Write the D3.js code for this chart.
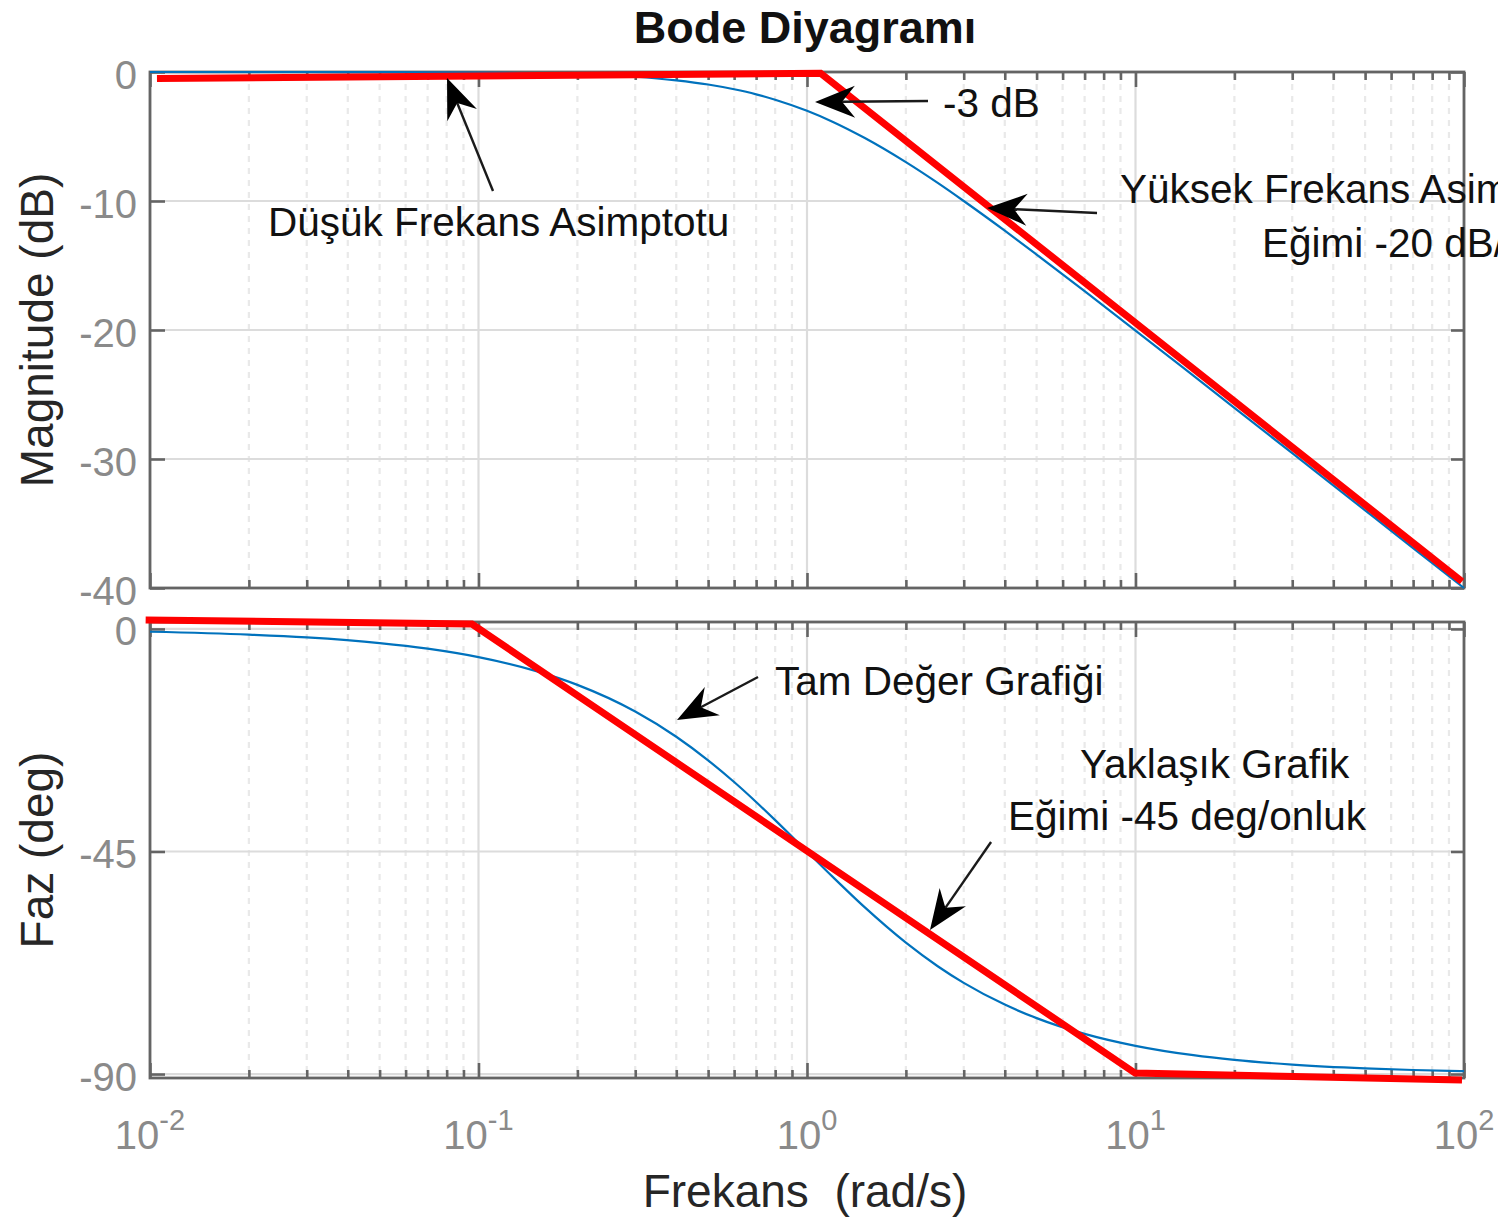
<!DOCTYPE html>
<html>
<head>
<meta charset="utf-8">
<script src="https://cdn.jsdelivr.net/npm/d3@7"></script>
<style>
  body { margin: 0; background: #fff; }
  svg { display: block; }
  text { font-family: "Liberation Sans", Arial, Helvetica, sans-serif; white-space: pre; }
</style>
</head>
<body>
<svg id="chart" width="1498" height="1219"></svg>
<script>
// ---------------- data ----------------
const freq = [0.01, 0.02, 0.03, 0.05, 0.07, 0.1, 0.15, 0.2, 0.3, 0.4, 0.5, 0.6, 0.7, 0.8, 1, 1.2, 1.5, 2, 2.5, 3, 4, 5, 7, 10, 15, 20, 30, 50, 70, 100];
const magnitudeDb = [0.00, 0.00, 0.00, -0.01, -0.02, -0.04, -0.10, -0.17, -0.37, -0.65, -0.97, -1.34, -1.73, -2.15, -3.01, -3.87, -5.12, -6.99, -8.60, -10.00, -12.30, -14.15, -16.99, -20.04, -23.54, -26.03, -29.55, -33.98, -36.90, -40.00];
const phaseDeg = [-0.57, -1.15, -1.72, -2.86, -4.00, -5.71, -8.53, -11.31, -16.70, -21.80, -26.57, -30.96, -34.99, -38.66, -45.00, -50.19, -56.31, -63.43, -68.20, -71.57, -75.96, -78.69, -81.87, -84.29, -86.19, -87.14, -88.09, -88.85, -89.18, -89.43];

const asymMagFreq = [0.0105, 1.10, 98.6];
const asymMagDb = [-0.5, -0.1, -39.5];
const asymPhaseFreq = [0.0097, 0.0955, 9.97, 98.6];
const asymPhaseDeg = [1.8, 1.0, -89.8, -91.2];

const magTicks = [0, -10, -20, -30, -40];
const phaseTicks = [0, -45, -90];
const decadeTicks = [0.01, 0.1, 1, 10, 100];
const decadeExponents = ["-2", "-1", "0", "1", "2"];

const titleText = "Bode Diyagramı";
const xLabelText = "Frekans  (rad/s)";
const magLabelText = "Magnitude (dB)";
const phaseLabelText = "Faz (deg)";

// annotation texts and their anchor points in data units (freq, value)
const magNotes = [
  { text: "Düşük Frekans Asimptotu", f: 0.02286, v: -12.71 },
  { text: "-3 dB", f: 2.594, v: -3.49 },
  { text: "Yüksek Frekans Asimptotu", f: 8.97, v: -10.16 },
  { text: "Eğimi -20 dB/onluk", f: 24.27, v: -14.34 }
];
const phaseNotes = [
  { text: "Tam Değer Grafiği", f: 0.7991, v: -13.35 },
  { text: "Yaklaşık Grafik", f: 6.776, v: -30.14 },
  { text: "Eğimi -45 deg/onluk", f: 4.092, v: -40.66 }
];
// arrows: tail -> head in data units
const magArrows = [
  { f1: 0.1107, v1: -9.22, f2: 0.0802, v2: -0.47 },
  { f1: 2.335, v1: -2.25, f2: 1.058, v2: -2.33 },
  { f1: 7.636, v1: -10.93, f2: 3.532, v2: -10.54 }
];
const phaseArrows = [
  { f1: 0.7094, v1: -9.71, f2: 0.402, v2: -18.41 },
  { f1: 3.633, v1: -43.08, f2: 2.368, v2: -60.88 }
];

// ---------------- layout ----------------
const svg = d3.select("#chart");
const left = 150, right = 1464;
const magTop = 72, magBottom = 588, phTop = 622, phBottom = 1078;

const x = d3.scaleLog().domain([0.01, 100]).range([left, right]);
const yMag = d3.scaleLinear().domain([-40, 0]).range([magBottom, magTop]);
const yPh = d3.scaleLinear().domain([-90.8, 1.4]).range([phBottom, phTop]);

const minorTicks = x.ticks().filter(v => Math.abs(Math.log10(v) - Math.round(Math.log10(v))) > 1e-6);

const axisColor = "#646464";
const tickLabelColor = "#8a8a8a";

function panel(y, top, bottom, yTicks) {
  const g = svg.append("g");
  // minor x grid (dotted)
  g.append("g").selectAll("line").data(minorTicks).join("line")
    .attr("x1", d => x(d)).attr("x2", d => x(d))
    .attr("y1", top).attr("y2", bottom)
    .attr("stroke", "#e9e9e9").attr("stroke-width", 2.2)
    .attr("stroke-dasharray", "6,6");
  // major x grid
  g.append("g").selectAll("line").data(decadeTicks).join("line")
    .attr("x1", d => x(d)).attr("x2", d => x(d))
    .attr("y1", top).attr("y2", bottom)
    .attr("stroke", "#dcdcdc").attr("stroke-width", 2.2);
  // major y grid
  g.append("g").selectAll("line").data(yTicks).join("line")
    .attr("x1", left).attr("x2", right)
    .attr("y1", d => y(d)).attr("y2", d => y(d))
    .attr("stroke", "#dcdcdc").attr("stroke-width", 2.2);

  // axes (ticks pointing inward)
  const styleAxis = sel => {
    sel.select(".domain").remove();
    sel.selectAll(".tick line").attr("stroke", axisColor).attr("stroke-width", 2.6);
  };
  g.append("g").attr("transform", `translate(0,${bottom})`)
    .call(d3.axisBottom(x).tickValues(decadeTicks).tickSize(-15).tickFormat(""))
    .call(styleAxis);
  g.append("g").attr("transform", `translate(0,${bottom})`)
    .call(d3.axisBottom(x).tickValues(minorTicks).tickSize(-8).tickFormat(""))
    .call(styleAxis);
  g.append("g").attr("transform", `translate(0,${top})`)
    .call(d3.axisTop(x).tickValues(decadeTicks).tickSize(-15).tickFormat(""))
    .call(styleAxis);
  g.append("g").attr("transform", `translate(0,${top})`)
    .call(d3.axisTop(x).tickValues(minorTicks).tickSize(-8).tickFormat(""))
    .call(styleAxis);
  g.append("g").attr("transform", `translate(${right},0)`)
    .call(d3.axisRight(y).tickValues(yTicks).tickSize(-13).tickFormat(""))
    .call(styleAxis);
  const ya = g.append("g").attr("transform", `translate(${left},0)`)
    .call(d3.axisLeft(y).tickValues(yTicks).tickSize(-15).tickPadding(13).tickFormat(d => String(d)))
    .call(styleAxis);
  ya.selectAll(".tick text")
    .attr("font-size", 40).attr("fill", tickLabelColor)
    .attr("font-family", "Liberation Sans, Arial, sans-serif")
    .attr("dy", "0.4em");

  // box
  g.append("rect").attr("x", left).attr("y", top)
    .attr("width", right - left).attr("height", bottom - top)
    .attr("fill", "none").attr("stroke", axisColor).attr("stroke-width", 2.8);
  return g;
}

panel(yMag, magTop, magBottom, magTicks);
panel(yPh, phTop, phBottom, phaseTicks);

// x tick labels (bottom panel only)
const xl = svg.append("g").selectAll("text").data(decadeTicks).join("text")
  .attr("x", d => x(d)).attr("y", 1149)
  .attr("text-anchor", "middle").attr("fill", tickLabelColor).attr("font-size", 40);
xl.append("tspan").text("10");
xl.append("tspan").attr("dy", -19).attr("font-size", 29).text((d, i) => decadeExponents[i]);

// ---------------- curves ----------------
const blue = "#0072BD", red = "#ff0000";
const magLine = d3.line().x(d => x(d[0])).y(d => yMag(d[1])).curve(d3.curveMonotoneX);
const phLine = d3.line().x(d => x(d[0])).y(d => yPh(d[1])).curve(d3.curveMonotoneX);
const straightMag = d3.line().x(d => x(d[0])).y(d => yMag(d[1]));
const straightPh = d3.line().x(d => x(d[0])).y(d => yPh(d[1]));

svg.append("path").datum(freq.map((f, i) => [f, magnitudeDb[i]]))
  .attr("d", magLine).attr("fill", "none").attr("stroke", blue).attr("stroke-width", 2.2);
svg.append("path").datum(freq.map((f, i) => [f, phaseDeg[i]]))
  .attr("d", phLine).attr("fill", "none").attr("stroke", blue).attr("stroke-width", 2.2);

svg.append("path").datum(asymMagFreq.map((f, i) => [f, asymMagDb[i]]))
  .attr("d", straightMag).attr("fill", "none").attr("stroke", red)
  .attr("stroke-width", 7).attr("stroke-linejoin", "miter");
svg.append("path").datum(asymPhaseFreq.map((f, i) => [f, asymPhaseDeg[i]]))
  .attr("d", straightPh).attr("fill", "none").attr("stroke", red)
  .attr("stroke-width", 7).attr("stroke-linejoin", "miter");

// ---------------- annotations ----------------
function arrow(tx, ty, hx, hy) {
  const dx = hx - tx, dy = hy - ty, len = Math.hypot(dx, dy);
  const ux = dx / len, uy = dy / len, px = -uy, py = ux;
  const L = 40, Wd = 16, N = 27;
  svg.append("line").attr("x1", tx).attr("y1", ty)
    .attr("x2", hx - ux * N).attr("y2", hy - uy * N)
    .attr("stroke", "#1a1a1a").attr("stroke-width", 2.4);
  const pts = [[hx, hy], [hx - ux * L + px * Wd, hy - uy * L + py * Wd],
               [hx - ux * N, hy - uy * N], [hx - ux * L - px * Wd, hy - uy * L - py * Wd]];
  svg.append("path").attr("d", d3.line()(pts) + "Z").attr("fill", "#000");
}
magArrows.forEach(a => arrow(x(a.f1), yMag(a.v1), x(a.f2), yMag(a.v2)));
phaseArrows.forEach(a => arrow(x(a.f1), yPh(a.v1), x(a.f2), yPh(a.v2)));

svg.append("g").selectAll("text").data(magNotes).join("text")
  .attr("x", d => x(d.f)).attr("y", d => yMag(d.v))
  .attr("font-size", 40.5).attr("fill", "#111").text(d => d.text);
svg.append("g").selectAll("text").data(phaseNotes).join("text")
  .attr("x", d => x(d.f)).attr("y", d => yPh(d.v))
  .attr("font-size", 40.5).attr("fill", "#111").text(d => d.text);

// ---------------- titles ----------------
svg.append("text").attr("x", 805).attr("y", 43).attr("text-anchor", "middle")
  .attr("font-size", 45).attr("font-weight", "bold").attr("fill", "#111").text(titleText);
svg.append("text").attr("x", 805).attr("y", 1207).attr("text-anchor", "middle")
  .attr("font-size", 46).attr("fill", "#262626").text(xLabelText);
svg.append("text").attr("transform", `translate(53,${(magTop + magBottom) / 2}) rotate(-90)`)
  .attr("text-anchor", "middle").attr("font-size", 46).attr("fill", "#262626").text(magLabelText);
svg.append("text").attr("transform", `translate(53,${(phTop + phBottom) / 2}) rotate(-90)`)
  .attr("text-anchor", "middle").attr("font-size", 46).attr("fill", "#262626").text(phaseLabelText);
</script>
</body>
</html>
